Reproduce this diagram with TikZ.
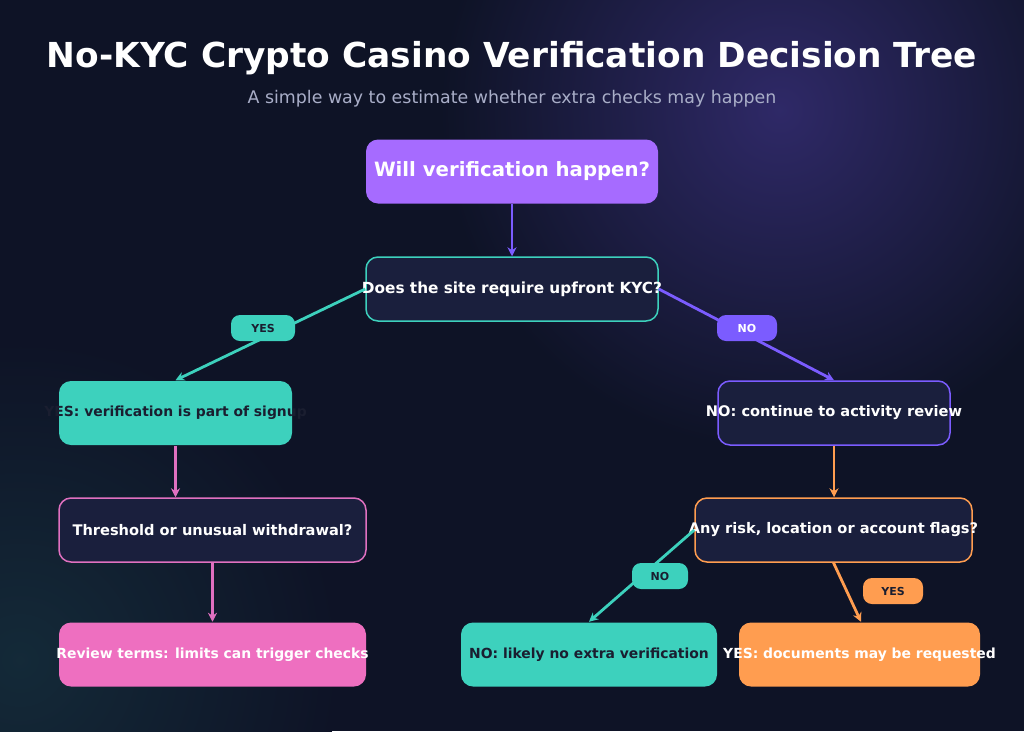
\documentclass[tikz,border=0pt]{standalone}
\usepackage{fontspec}
\setmainfont{DejaVu Sans}
\usetikzlibrary{arrows.meta,calc}
\definecolor{bg}{HTML}{0E1326}
\definecolor{box}{HTML}{1A1F3D}
\definecolor{vio}{HTML}{A66BFF}
\definecolor{pur}{HTML}{7B5CFF}
\definecolor{teal}{HTML}{3DD1BD}
\definecolor{pink}{HTML}{EE6FC0}
\definecolor{pinkb}{HTML}{E070C0}
\definecolor{orng}{HTML}{FF9D50}
\definecolor{dk}{HTML}{1A1E30}
\definecolor{sub}{HTML}{A9AEC8}
\newcommand{\zw}[1]{\makebox[0pt]{#1}}
\tikzset{
 bx/.style={rounded corners=12pt,minimum height=64pt,font=\bfseries\fontsize{14.6}{17}\selectfont,text=white,line width=1.5pt,inner sep=0pt},
 fb/.style={bx,font=\bfseries\fontsize{13.9}{16}\selectfont},
 cn/.style={line width=2.8pt,-{Stealth[length=9pt,width=9pt]}},
 pill/.style={rounded corners=9pt,minimum width=64pt,minimum height=26pt,font=\bfseries\fontsize{11}{13}\selectfont,inner sep=0pt}
}
\begin{document}
\begin{tikzpicture}[x=1pt,y=-1pt]
\useasboundingbox (0,0) rectangle (1024,731);
\fill[bg] (0,0) rectangle (1024,731);
\begin{scope}
\clip (0,0) rectangle (1024,731);
\shade[inner color=pur!30!bg,outer color=bg] (780,110) circle (340);
\shade[inner color=teal!12!bg,outer color=bg] (20,660) circle (320);
\end{scope}
\node[font=\bfseries\fontsize{34.4}{40}\selectfont,text=white] (title) at (512,58) {No-KYC Crypto Casino Verification Decision Tree};
\node[font=\fontsize{17.4}{20}\selectfont,text=sub] (subt) at (512,99) {A simple way to estimate whether extra checks may happen};

\node[bx,fill=vio,minimum width=292pt,font=\bfseries\fontsize{19.7}{23}\selectfont] (q0) at (512,171.5) {\zw{Will verification happen?}};
\node[bx,fill=box,draw=teal,minimum width=292pt,font=\bfseries\fontsize{15.3}{18}\selectfont] (q1) at (512,289) {\zw{Does the site require upfront KYC?}};
\node[fb,fill=teal,text=dk,minimum width=233pt] (yes1) at (175.5,413) {\zw{YES: verification is part of signup}};
\node[bx,fill=box,draw=pur,minimum width=232pt] (no1) at (834,413) {\zw{NO: continue to activity review}};
\node[bx,fill=box,draw=pinkb,minimum width=307pt] (thr) at (212.5,530) {\zw{Threshold or unusual withdrawal?}};
\node[bx,fill=box,draw=orng,minimum width=277pt] (risk) at (833.5,530) {\zw{Any risk, location or account flags?}};
\node[fb,fill=pink,minimum width=307pt] (rev) at (212.5,654.5) {\zw{Review terms: limits can trigger checks}};
\node[fb,fill=teal,text=dk,minimum width=256pt] (nox) at (589,654.5) {\zw{NO: likely no extra verification}};
\node[fb,fill=orng,minimum width=241pt] (docs) at (859.5,654.5) {\zw{YES: documents may be requested}};

\draw[cn,pur] (q0.south) -- (q1.north);
\draw[cn,teal] (q1.west) -- (yes1.north);
\draw[cn,pur] (q1.east) -- (no1.north);
\draw[cn,pinkb] (yes1.south) -- (yes1.south|-thr.north);
\draw[cn,orng] (no1.south) -- (no1.south|-risk.north);
\draw[cn,pinkb] (thr.south) -- (rev.north);
\draw[cn,teal] (risk.west) -- (nox.north);
\draw[cn,orng] (risk.south) -- ($(docs.north)+(1.5,0)$);

\node[pill,fill=teal,text=dk] (py1) at (263,328) {YES};
\node[pill,fill=pur,text=white,minimum width=60pt] (pn1) at (747,328) {NO};
\node[pill,fill=teal,text=dk,minimum width=56pt] (pn2) at (660,576) {NO};
\node[pill,fill=orng,text=dk,minimum width=60pt] (py2) at (893,591) {YES};
\end{tikzpicture}
\end{document}
